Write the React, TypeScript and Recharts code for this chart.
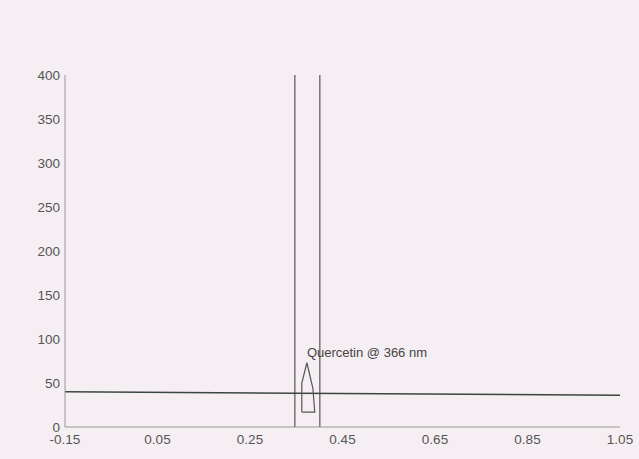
import { ComposedChart, Line, XAxis, YAxis, ReferenceLine, ReferenceDot } from "recharts";

// x positions (Rf) and intensity values
const xTicks = [-0.15, 0.05, 0.25, 0.45, 0.65, 0.85, 1.05];
const yTicks = [0, 50, 100, 150, 200, 250, 300, 350, 400];

const baselineX = [-0.15, 1.05];
const baselineY = [40, 36];

const peakX = [0.362, 0.362, 0.373, 0.386, 0.39, 0.362];
const peakY = [17, 50, 73, 44, 17, 17];

const windowEdges = [0.347, 0.401];
const peakLabel = "Quercetin @ 366 nm";

const baseline = baselineX.map((x, i) => ({ x, y: baselineY[i] }));
const peak = peakX.map((x, i) => ({ x, y: peakY[i] }));

const font = "'Liberation Sans', Arial, sans-serif";

const LabelText = (props: any) => {
  const { viewBox } = props;
  return (
    <text x={viewBox.x} y={viewBox.y} fill="#444" fontSize={13} fontFamily={font}>
      {peakLabel}
    </text>
  );
};

export default function App() {
  return (
    <div
      style={{
        position: "absolute",
        left: 0,
        top: 0,
        width: 639,
        height: 459,
        background: "#f5eff3",
      }}
    >
      <ComposedChart
        width={639}
        height={459}
        margin={{ top: 75, right: 19, bottom: 0, left: 0 }}
      >
        <XAxis
          type="number"
          dataKey="x"
          domain={[-0.15, 1.05]}
          ticks={xTicks}
          allowDataOverflow
          height={32}
          stroke="#999"
          tickLine={false}
          tickSize={0}
          tickMargin={7}
          tick={{ fill: "#555", fontSize: 13.5, fontFamily: font }}
          tickFormatter={(v) => v.toFixed(2)}
        />
        <YAxis
          type="number"
          dataKey="y"
          domain={[0, 400]}
          ticks={yTicks}
          width={65}
          stroke="#999"
          tickLine={false}
          tickSize={0}
          tickMargin={5}
          tick={{ fill: "#555", fontSize: 13.5, fontFamily: font }}
        />
        {windowEdges.map((x) => (
          <ReferenceLine key={x} x={x} stroke="#555" strokeWidth={1.2} />
        ))}
        <Line
          data={baseline}
          dataKey="y"
          stroke="#3c4640"
          strokeWidth={1.5}
          dot={false}
          isAnimationActive={false}
        />
        <Line
          data={peak}
          dataKey="y"
          stroke="#555"
          strokeWidth={1.2}
          dot={false}
          isAnimationActive={false}
        />
        <ReferenceDot x={0.373} y={80} r={0} label={<LabelText />} />
      </ComposedChart>
    </div>
  );
}
